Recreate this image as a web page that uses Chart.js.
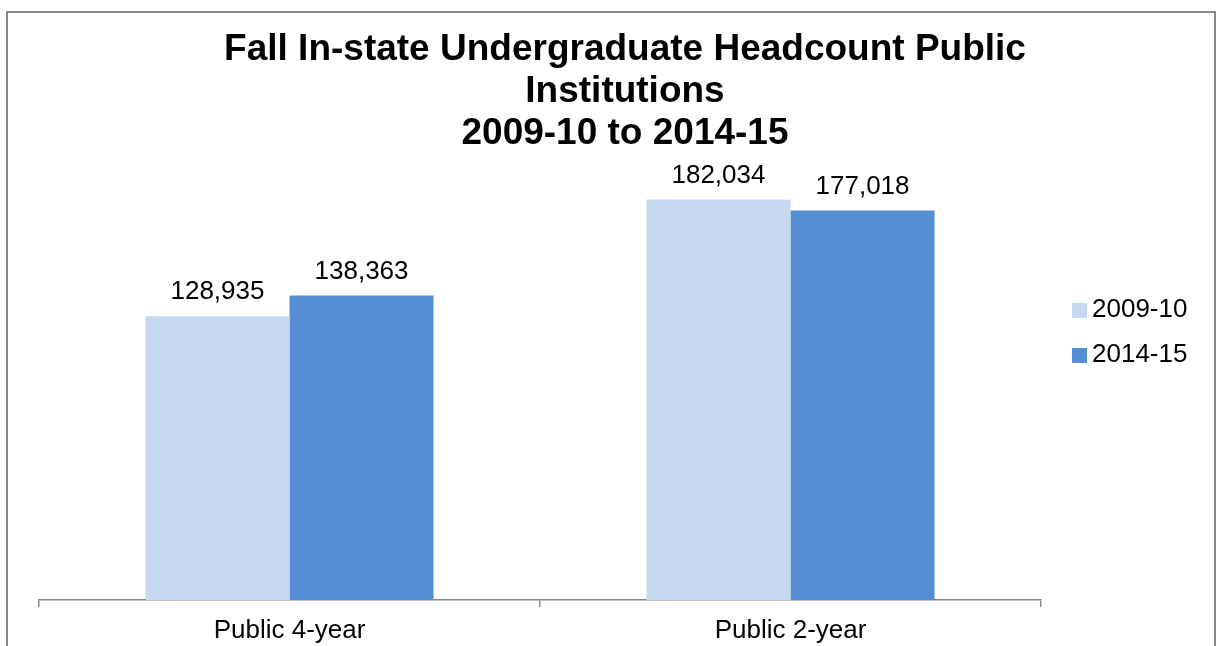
<!DOCTYPE html>
<html>
<head>
<meta charset="utf-8">
<title>Fall In-state Undergraduate Headcount</title>
<script src="https://cdn.jsdelivr.net/npm/chart.js@4"></script>
<style>
  html, body { margin: 0; padding: 0; background: #fff; }
  #wrap { width: 1217px; height: 646px; }
</style>
</head>
<body>
<div id="wrap"><canvas id="chart"></canvas></div>
<script>
// ── Dados ──────────────────────────────────────────────
const categorias  = ['Public 4-year', 'Public 2-year'];
const anos        = ['2009-10', '2014-15'];
const valores0910 = [128935, 182034];
const valores1415 = [138363, 177018];
const cores       = ['#C6D9F1', '#558ED5'];
const tituloLinhas = [
  'Fall In-state Undergraduate Headcount Public',
  'Institutions',
  '2009-10 to 2014-15'
];

const FONTE = 'Arial, "Liberation Sans", sans-serif';
const fmt = v => v.toLocaleString('en-US');

// moldura cinza + fundo branco
const moldura = {
  id: 'moldura',
  beforeDraw(chart) {
    const c = chart.ctx;
    c.save();
    c.fillStyle = '#fff';
    c.fillRect(0, 0, chart.width, chart.height);
    c.strokeStyle = '#878787';
    c.lineWidth = 2;
    c.strokeRect(7, 12, 1208, 700);
    c.restore();
  }
};

// título em três linhas
const titulo = {
  id: 'titulo',
  afterDraw(chart) {
    const c = chart.ctx;
    c.save();
    c.font = `bold 37px ${FONTE}`;
    c.fillStyle = '#000';
    c.textAlign = 'center';
    c.textBaseline = 'alphabetic';
    tituloLinhas.forEach((t, i) => c.fillText(t, 625, 60 + i * 42));
    c.restore();
  }
};

// rótulos de valor acima das barras
const rotulos = {
  id: 'rotulos',
  afterDatasetsDraw(chart) {
    const c = chart.ctx;
    c.save();
    c.font = `26px ${FONTE}`;
    c.fillStyle = '#000';
    c.textAlign = 'center';
    c.textBaseline = 'alphabetic';
    chart.data.datasets.forEach((ds, i) => {
      chart.getDatasetMeta(i).data.forEach((bar, j) => {
        c.fillText(fmt(ds.data[j]), bar.x, bar.y - 17);
      });
    });
    c.restore();
  }
};

// legenda à direita
const legenda = {
  id: 'legenda',
  afterDraw(chart) {
    const c = chart.ctx;
    c.save();
    c.font = `26px ${FONTE}`;
    c.textBaseline = 'alphabetic';
    c.textAlign = 'left';
    chart.data.datasets.forEach((ds, i) => {
      const base = 317 + i * 45;
      c.fillStyle = ds.backgroundColor;
      c.fillRect(1072, base - 14, 15, 15);
      c.fillStyle = '#000';
      c.fillText(ds.label, 1092, base);
    });
    c.restore();
  }
};

new Chart(document.getElementById('chart'), {
  type: 'bar',
  data: {
    labels: categorias,
    datasets: [
      { label: anos[0], data: valores0910, backgroundColor: cores[0] },
      { label: anos[1], data: valores1415, backgroundColor: cores[1] }
    ]
  },
  options: {
    responsive: true,
    maintainAspectRatio: false,
    animation: false,
    categoryPercentage: 0.575,
    barPercentage: 1.0,
    layout: { padding: { top: 160, left: 39, right: 176, bottom: 0 } },
    plugins: {
      legend: { display: false },
      title: { display: false },
      tooltip: { enabled: false }
    },
    scales: {
      y: { display: false, min: 0, max: 200000 },
      x: {
        afterFit: s => { s.height = 46; },
        grid: {
          offset: true,
          drawOnChartArea: false,
          drawTicks: true,
          tickLength: 7,
          tickColor: '#878787',
          lineWidth: 1.5
        },
        border: { display: true, color: '#878787', width: 1.5 },
        ticks: {
          color: '#000',
          padding: 8,
          font: { family: FONTE, size: 26 }
        }
      }
    }
  },
  plugins: [moldura, rotulos, titulo, legenda]
});
</script>
</body>
</html>
